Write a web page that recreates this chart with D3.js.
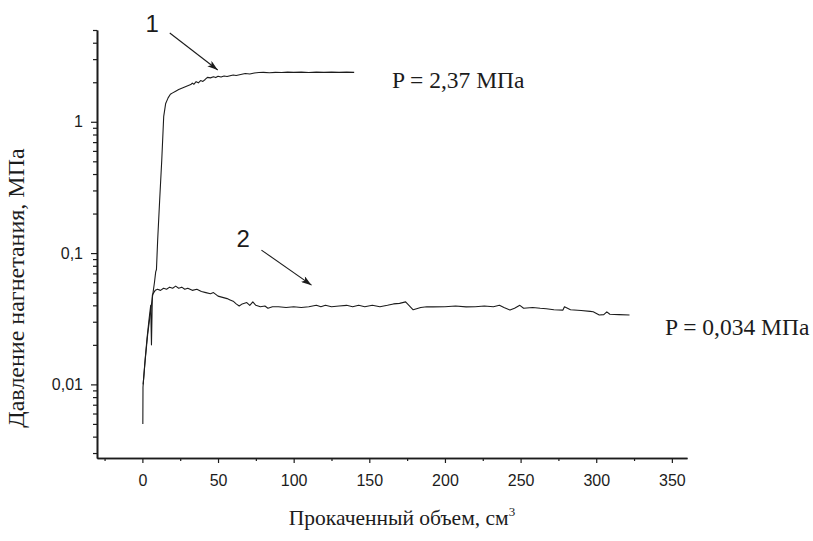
<!DOCTYPE html>
<html>
<head>
<meta charset="utf-8">
<title>Давление нагнетания</title>
<script src="https://cdn.jsdelivr.net/npm/d3@7"></script>
<style>
  body{margin:0;background:#fff;}
  .tick text{font-family:"Liberation Sans",Arial,sans-serif;}
  .serif{font-family:"Liberation Serif";}
</style>
</head>
<body>
<div id="chart"></div>
<script>
// ---- data ----
var curve1X = [0.5, 2, 3.5, 5, 6.5, 8, 8.8, 9.3, 10.1, 11.4, 12.8, 14.1, 15.4, 17, 18.5, 20, 22, 24, 26, 28, 30, 32, 33, 34, 35.5, 37, 38.5, 40, 41.5, 43, 45, 47, 48.5, 50, 52, 54, 56, 58, 60, 62, 65, 68, 71, 74, 77, 80, 84, 88, 92, 96, 100, 105, 110, 115, 120, 125, 130, 135, 140];
var curve1Y = [0.010, 0.016, 0.024, 0.033, 0.045, 0.060, 0.072, 0.075, 0.126, 0.25, 0.51, 1.10, 1.38, 1.52, 1.62, 1.66, 1.71, 1.76, 1.80, 1.84, 1.88, 1.92, 1.97, 1.93, 2.02, 1.98, 2.06, 2.03, 2.10, 2.18, 2.16, 2.20, 2.17, 2.22, 2.19, 2.23, 2.21, 2.24, 2.27, 2.25, 2.29, 2.33, 2.31, 2.35, 2.37, 2.38, 2.36, 2.38, 2.37, 2.39, 2.38, 2.39, 2.37, 2.39, 2.38, 2.39, 2.38, 2.39, 2.38];

var curve2X = [0.3, 0.4, 1.5, 3, 4.5, 5.5, 6, 6.6, 7.5, 8.5, 10, 12, 14, 16, 18, 20, 22, 24, 26, 28, 30, 33, 36, 39, 42, 45, 47, 50, 53, 56, 58, 60, 62, 64, 66, 69, 71, 73, 75, 78, 81, 83, 86, 90, 95, 100, 105, 110, 115, 118, 121, 125, 130, 135, 139, 143, 147, 152, 157, 162, 166, 170, 174, 179, 184, 188, 192, 200, 207, 214, 220, 226, 232, 236, 239, 243, 246, 249.5, 252, 258, 263, 267, 272, 278, 279, 283, 290, 296, 298, 302, 305, 307, 309, 315, 322];
var curve2Y = [0.005, 0.0095, 0.014, 0.022, 0.032, 0.040, 0.020, 0.048, 0.050, 0.052, 0.053, 0.052, 0.054, 0.053, 0.055, 0.054, 0.056, 0.054, 0.055, 0.053, 0.054, 0.052, 0.053, 0.051, 0.050, 0.049, 0.050, 0.047, 0.046, 0.045, 0.044, 0.043, 0.041, 0.0395, 0.041, 0.042, 0.040, 0.0425, 0.040, 0.039, 0.0395, 0.038, 0.039, 0.039, 0.0385, 0.039, 0.0385, 0.039, 0.040, 0.039, 0.040, 0.039, 0.0395, 0.040, 0.039, 0.040, 0.039, 0.040, 0.039, 0.040, 0.041, 0.0414, 0.0425, 0.037, 0.0385, 0.039, 0.0389, 0.039, 0.0395, 0.0389, 0.039, 0.0395, 0.039, 0.040, 0.0385, 0.0368, 0.038, 0.040, 0.038, 0.0385, 0.038, 0.0377, 0.037, 0.0368, 0.039, 0.037, 0.0365, 0.036, 0.0357, 0.0338, 0.034, 0.0357, 0.0342, 0.034, 0.0338];

var xTickValues = [0, 50, 100, 150, 200, 250, 300, 350];
var xMinorValues = [-25, 25, 75, 125, 175, 225, 275, 325];
var yTickValues = [0.01, 0.1, 1];
var yTickLabels = ["0,01", "0,1", "1"];
var yMinorValues = [0.003, 0.004, 0.005, 0.006, 0.007, 0.008, 0.009,
                    0.02, 0.03, 0.04, 0.05, 0.06, 0.07, 0.08, 0.09,
                    0.2, 0.3, 0.4, 0.5, 0.6, 0.7, 0.8, 0.9, 2, 3, 4, 5];

var xTitle = "Прокаченный объем, см";
var yTitle = "Давление нагнетания, МПа";
var pLabels = ["P = 2,37 МПа", "P = 0,034 МПа"];
var curveNames = ["1", "2"];

var W = 813, H = 541;
var svg = d3.select("#chart").append("svg")
    .attr("width", W).attr("height", H);

var xScale = d3.scaleLinear().domain([-30, 360]).range([97, 687]);
var yScale = d3.scaleLog().domain([0.00275, 5]).range([458, 30]);

var ink = "#1c1c1c";

// axes
var xAxis = d3.axisBottom(xScale).tickValues(xTickValues).tickSize(5).tickPadding(12).tickSizeOuter(0);
var xAxisMinor = d3.axisBottom(xScale).tickValues(xMinorValues).tickSize(3).tickFormat("").tickSizeOuter(0);
var yAxis = d3.axisLeft(yScale).tickValues(yTickValues).tickSize(6).tickPadding(8).tickSizeOuter(0)
    .tickFormat(function(d, i){ return yTickLabels[i]; });
var yAxisMinor = d3.axisLeft(yScale).tickValues(yMinorValues).tickSize(4).tickFormat("").tickSizeOuter(0);

svg.append("g").attr("transform", "translate(0,458)").call(xAxisMinor);
svg.append("g").attr("class", "x-ax").attr("transform", "translate(0,458)").call(xAxis);
svg.append("g").attr("transform", "translate(97,0)").call(yAxisMinor);
svg.append("g").attr("class", "y-ax").attr("transform", "translate(97,0)").call(yAxis);

svg.selectAll(".domain").attr("stroke", ink).attr("stroke-width", 1.6);
svg.selectAll(".tick line").attr("stroke", ink).attr("stroke-width", 1.2);
svg.selectAll(".tick text").attr("fill", ink).style("font-size", "16px");

// curves
var line = d3.line()
    .x(function(d){ return xScale(d[0]); })
    .y(function(d){ return yScale(d[1]); });

var curves = [d3.zip(curve1X, curve1Y), d3.zip(curve2X, curve2Y)];
svg.selectAll(".curve").data(curves).enter().append("path")
    .attr("class", "curve")
    .attr("d", line)
    .attr("fill", "none")
    .attr("stroke", ink)
    .attr("stroke-width", 1.1)
    .attr("stroke-linejoin", "round");

// arrows and curve numbers
svg.append("defs").append("marker")
    .attr("id", "arr").attr("viewBox", "0 0 12 8")
    .attr("refX", 12).attr("refY", 4)
    .attr("markerWidth", 12).attr("markerHeight", 7)
    .attr("markerUnits", "userSpaceOnUse")
    .attr("orient", "auto")
  .append("path").attr("d", "M0,0L12,4L0,8L3,4z").attr("fill", ink);

var arrows = [[[18.1, 4.74], [49.8, 2.48]], [[78.7, 0.1054], [111.8, 0.057]]];
svg.selectAll(".arrow").data(arrows).enter().append("line")
    .attr("class", "arrow")
    .attr("x1", function(d){ return xScale(d[0][0]); })
    .attr("y1", function(d){ return yScale(d[0][1]); })
    .attr("x2", function(d){ return xScale(d[1][0]); })
    .attr("y2", function(d){ return yScale(d[1][1]); })
    .attr("stroke", ink).attr("stroke-width", 1.1)
    .attr("marker-end", "url(#arr)");

var namePos = [[6.5, 4.82], [66.7, 0.111]];
svg.selectAll(".cname").data(curveNames).enter().append("text")
    .attr("class", "cname")
    .attr("x", function(d, i){ return xScale(namePos[i][0]); })
    .attr("y", function(d, i){ return yScale(namePos[i][1]); })
    .attr("text-anchor", "middle")
    .style("font-family", "'Liberation Sans', Arial, sans-serif")
    .style("font-size", "24px")
    .attr("fill", ink)
    .text(function(d){ return d; });

var pPos = [[165, 1.806], [345.5, 0.0237]];
svg.selectAll(".plabel").data(pLabels).enter().append("text")
    .attr("class", "plabel serif")
    .attr("x", function(d, i){ return xScale(pPos[i][0]); })
    .attr("y", function(d, i){ return yScale(pPos[i][1]); })
    .style("font-size", "23.5px")
    .attr("fill", ink)
    .text(function(d){ return d; });

// axis titles
var xt = svg.append("text")
    .attr("class", "serif")
    .attr("x", 402).attr("y", 525)
    .attr("text-anchor", "middle")
    .style("font-size", "21.5px")
    .attr("fill", ink)
    .text(xTitle);
xt.append("tspan").attr("dy", -9).style("font-size", "13px").text("3");

svg.append("text")
    .attr("class", "serif")
    .attr("transform", "translate(24,288) rotate(-90)")
    .attr("text-anchor", "middle")
    .style("font-size", "24px")
    .attr("fill", ink)
    .text(yTitle);
</script>
</body>
</html>
